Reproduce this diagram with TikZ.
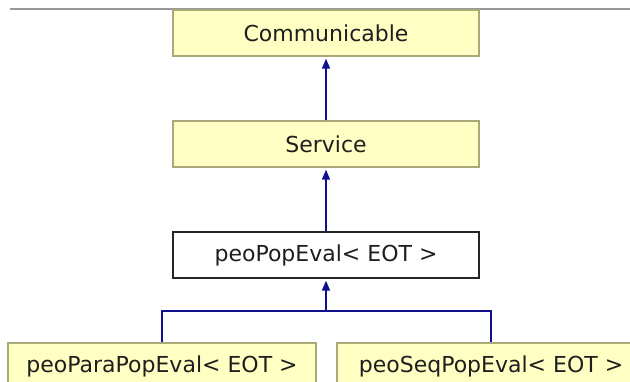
\documentclass[tikz,border=0pt]{standalone}
\usepackage{fontspec}
\setmainfont{DejaVu Sans}
\usetikzlibrary{arrows.meta}
\definecolor{boxfill}{HTML}{FFFFC4}
\definecolor{boxline}{HTML}{A8A878}
\definecolor{conncol}{HTML}{10108C}
\definecolor{txt}{HTML}{1E1E1E}
\tikzset{
  cls/.style={draw=boxline, fill=boxfill, line width=1.3pt, minimum height=46pt,
    inner sep=0pt, text=txt, font=\fontsize{22}{25}\selectfont},
  curcls/.style={cls, draw=black!85, fill=white},
  conn/.style={draw=conncol, line width=1.5pt,
    -{Triangle[length=10pt,width=8pt]}, shorten >=2pt},
}
\begin{document}
\begin{tikzpicture}[x=1pt,y=-1pt]
\useasboundingbox (0,0) rectangle (630,381);
\fill[white] (0,0) rectangle (630,381);
\draw[gray!80, line width=1.2pt] (10,9) -- (630,9);
\node[cls, minimum width=306pt] (comm) at (326,33) {Communicable};
\node[cls, minimum width=306pt] (serv) at (326,144) {Service};
\node[curcls, minimum width=306pt] (peo) at (326,255) {peoPopEval< EOT >};
\node[cls, minimum width=308pt] (para) at (162,366) {peoParaPopEval< EOT >};
\node[cls, minimum width=308pt] (seq) at (491,366) {peoSeqPopEval< EOT >};
\coordinate (join) at (326,311);
\draw[conn] (serv.north) -- (comm.south);
\draw[conn] (peo.north) -- (serv.south);
\draw[draw=conncol, line width=1.5pt] (para.north) |- (join) -| (seq.north);
\draw[conn] (join) -- (peo.south);
\end{tikzpicture}
\end{document}
